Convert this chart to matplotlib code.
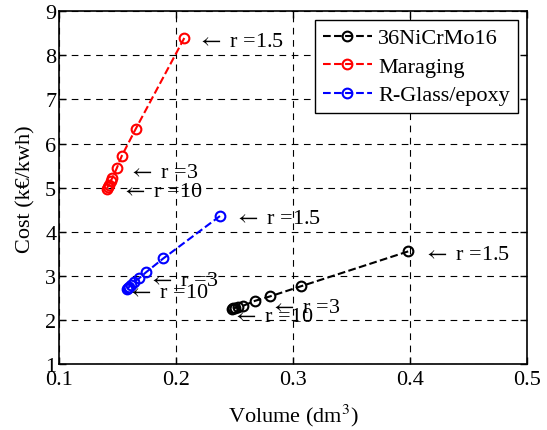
import matplotlib
matplotlib.use('Agg')
import matplotlib.pyplot as plt

plt.rcParams['font.family'] = ['Liberation Serif', 'DejaVu Serif']
plt.rcParams['font.size'] = 16
plt.rcParams['mathtext.fontset'] = 'stix'
plt.rcParams['xtick.direction'] = 'in'
plt.rcParams['ytick.direction'] = 'in'

# volume (dm3) and cost (k€/kwh), r from 1.5 to 10
steel_x = [0.3986, 0.3068, 0.2803, 0.2675, 0.2575, 0.2530, 0.2505, 0.2490, 0.2480]
steel_y = [3.56, 2.77, 2.54, 2.44, 2.33, 2.30, 2.28, 2.27, 2.26]
marag_x = [0.2071, 0.1655, 0.1536, 0.1493, 0.1455, 0.1440, 0.1425, 0.1415, 0.1410]
marag_y = [8.39, 6.33, 5.72, 5.44, 5.22, 5.15, 5.07, 5.02, 4.98]
glass_x = [0.2376, 0.1891, 0.1745, 0.1684, 0.1640, 0.1615, 0.1600, 0.1590, 0.1585]
glass_y = [4.36, 3.40, 3.09, 2.95, 2.87, 2.80, 2.76, 2.73, 2.71]

labels = ['36NiCrMo16', 'Maraging', 'R-Glass/epoxy']

# r annotations: (x, y, text)
notes = [
    (0.218, 8.30, r'$\leftarrow$ r =1.5'), (0.159, 5.35, r'$\leftarrow$ r =3'), (0.153, 4.92, r'$\leftarrow$ r =10'),
    (0.250, 4.31, r'$\leftarrow$ r =1.5'), (0.176, 2.89, r'$\leftarrow$ r =3'), (0.158, 2.64, r'$\leftarrow$ r =10'),
    (0.411, 3.50, r'$\leftarrow$ r =1.5'), (0.280, 2.30, r'$\leftarrow$ r =3'), (0.248, 2.09, r'$\leftarrow$ r =10'),
]

fig = plt.figure(figsize=(5.47, 4.31), dpi=100)
ax = fig.add_axes([0.108, 0.152, 0.855, 0.820])

style = dict(linestyle='--', linewidth=1.5, marker='o', markersize=7,
             markerfacecolor='none', markeredgewidth=1.5)
ax.plot(steel_x, steel_y, color='black', label=labels[0], **style)
ax.plot(marag_x, marag_y, color='red', label=labels[1], **style)
ax.plot(glass_x, glass_y, color='blue', label=labels[2], **style)

for x, y, t in notes:
    ax.text(x, y, t, ha='left', va='center', fontsize=16)

ax.set_xlim(0.1, 0.5)
ax.set_ylim(1, 9)
ax.set_xticks([0.1, 0.2, 0.3, 0.4, 0.5])
ax.set_xticklabels(['0.1', '0.2', '0.3', '0.4', '0.5'])
ax.set_yticks(range(1, 10))
ax.tick_params(top=True, right=True, length=5, width=1, labelsize=16)
ax.tick_params(axis='x', pad=4)
ax.tick_params(axis='y', pad=2)
ax.grid(True, color='black', linestyle=(0, (6, 5)), linewidth=0.8)
for s in ax.spines.values():
    s.set_linewidth(1.2)

ax.set_xlabel('Volume (dm$^3$)', fontsize=16, labelpad=9)
ax.set_ylabel('Cost (k\u20ac/kwh)', fontsize=16, labelpad=7)

leg = ax.legend(loc='upper right', fontsize=16, handlelength=2.2, borderpad=0.35,
                labelspacing=0.36, handletextpad=0.3, fancybox=False,
                framealpha=1, edgecolor='black', borderaxespad=0.4)
leg.get_frame().set_linewidth(1.0)

fig.savefig('out.png', dpi=100)
